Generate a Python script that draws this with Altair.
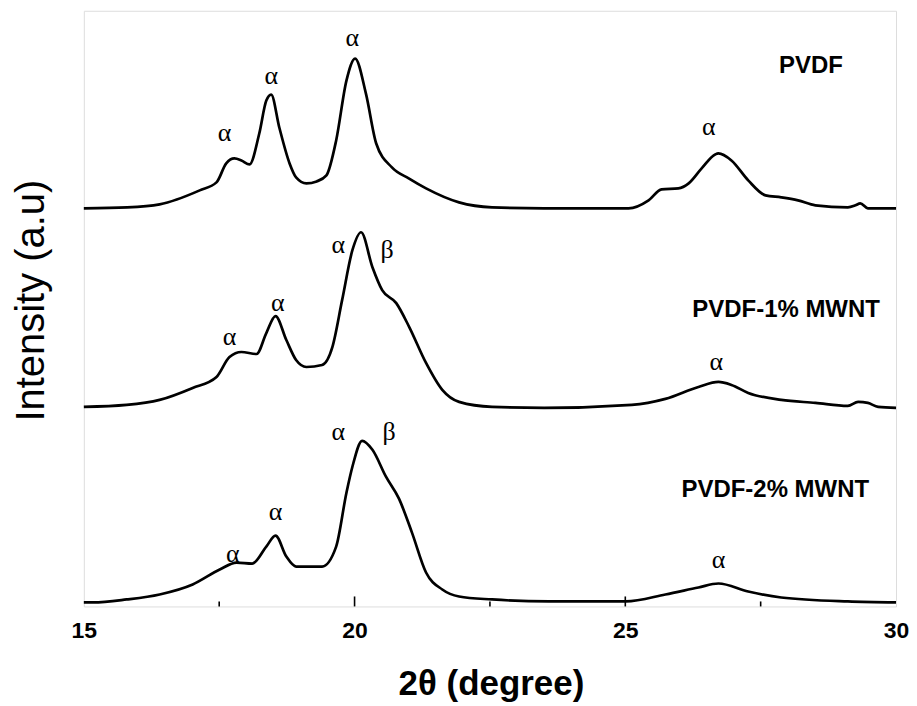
import altair as alt
import pandas as pd

# ---- data (2θ in degrees, intensity in a.u.) ----
pvdf_x = [15.0, 15.8, 16.4, 17.14, 17.45, 17.63, 17.78, 17.91, 18.06, 18.24, 18.37, 18.46,
          18.61, 18.80, 18.92, 19.11, 19.30, 19.48, 19.66, 19.85, 20.01, 20.21, 20.40, 20.69,
          21.0, 21.32, 21.93, 22.54, 23.5, 25.06, 25.43, 25.67, 25.98, 26.17, 26.41, 26.66,
          26.72, 26.96, 27.27, 27.59, 27.88, 28.19, 28.51, 29.11, 29.25, 29.34, 29.48, 30.0]
pvdf_y = [0, 1, 4, 18, 26, 45, 50, 48, 44, 75, 108, 114,
          81, 45, 31, 25, 27, 33, 68, 128, 150, 115, 65, 41,
          30, 20, 6, 1, 0, 0, 8, 19, 20, 25, 40, 54,
          55, 48, 28, 13, 11, 8, 3, 1, 3, 5, 0, 0]

mw1_x = [15.0, 15.79, 16.40, 17.01, 17.45, 17.69, 17.91, 18.19, 18.37, 18.54, 18.74, 18.92,
         19.11, 19.40, 19.59, 19.77, 19.96, 20.12, 20.33, 20.51, 20.77, 21.01, 21.32, 21.62,
         21.93, 22.54, 23.5, 25.12, 25.74, 26.35, 26.72, 26.96, 27.27, 27.88, 28.51, 29.11,
         29.30, 29.48, 29.67, 30.0]
mw1_y = [1, 3, 8, 20, 31, 51, 56, 54, 75, 92, 68, 48,
         41, 43, 61, 108, 158, 176, 141, 118, 105, 81, 45, 18,
         6, 1, 0, 3, 9, 21, 26, 23, 15, 8, 5, 2,
         6, 5, 1, 0]

mw2_x = [15.0, 15.17, 15.79, 16.40, 17.01, 17.51, 17.82, 18.11, 18.37, 18.54, 18.74, 18.92,
         19.40, 19.66, 19.85, 19.96, 20.14, 20.33, 20.58, 20.82, 21.06, 21.32, 21.62, 21.93,
         22.54, 23.59, 25.01, 25.74, 26.35, 26.72, 27.27, 27.88, 29.11, 30.0]
mw2_y = [0, 0, 3, 8, 18, 33, 40, 39, 56, 67, 46, 36,
         36, 56, 110, 136, 162, 153, 126, 104, 70, 30, 13, 6,
         3, 1, 1, 8, 15, 19, 11, 5, 1, 0]

series_names = ["PVDF", "PVDF-1% MWNT", "PVDF-2% MWNT"]
series_offsets = [399, 199, 4]

# peak annotations: 2θ, level, symbol
peak_x = [17.60, 18.46, 19.96, 26.54,
          17.69, 18.58, 19.70, 20.60, 26.68,
          17.75, 18.54, 19.70, 20.64, 26.72]
peak_y = [474, 532, 570, 480,
          270, 304, 362, 357, 245,
          53, 95, 175, 175, 47]
peak_sym = ["α", "α", "α", "α",
            "α", "α", "α", "β", "α",
            "α", "α", "α", "β", "α"]

name_x = [28.43, 27.97, 27.77]
name_y = [542, 297, 117]

major_ticks = [20, 25]
minor_ticks = [17.5, 22.5, 27.5]

# ---- tables ----
rows = []
for name, off, xs, ys in zip(series_names, series_offsets,
                             [pvdf_x, mw1_x, mw2_x], [pvdf_y, mw1_y, mw2_y]):
    for x, y in zip(xs, ys):
        rows.append({"series": name, "theta": x, "intensity": y + off})
curves = pd.DataFrame(rows)
peaks = pd.DataFrame({"theta": peak_x, "level": peak_y, "sym": peak_sym})
names = pd.DataFrame({"theta": name_x, "level": name_y, "name": series_names})
majors = pd.DataFrame({"t": major_ticks})
minors = pd.DataFrame({"t": minor_ticks})

W, H = 814, 597

xscale = alt.Scale(domain=[15, 30], nice=False, zero=False)
yscale = alt.Scale(domain=[0, 597], nice=False, zero=False)

xaxis = alt.Axis(values=[15, 20, 25, 30], format="d", ticks=False, tickSize=0,
                 domain=False, grid=False, labelFlush=False, labelOverlap=False,
                 labelFont="Liberation Sans", labelFontWeight="bold", labelFontSize=23,
                 labelColor="black", labelBaseline="alphabetic", labelPadding=31,
                 title="2θ (degree)", titleFont="Liberation Sans", titleFontWeight="bold",
                 titleFontSize=35, titleColor="black", titleBaseline="alphabetic",
                 titleX=408, titleY=88, titleAlign="center")
yaxis = alt.Axis(labels=False, ticks=False, domain=False, grid=False,
                 title="Intensity (a.u)", titleFont="Liberation Sans",
                 titleFontWeight="normal", titleFontSize=40, titleColor="black",
                 titleBaseline="alphabetic", titleAngle=270, titleAlign="center",
                 titleX=-40, titleY=290)

lines = alt.Chart(curves).mark_line(color="black", strokeWidth=2.7,
                                    interpolate="monotone").encode(
    x=alt.X("theta:Q", scale=xscale, axis=xaxis),
    y=alt.Y("intensity:Q", scale=yscale, axis=yaxis),
    detail="series:N",
)

peak_text = alt.Chart(peaks).mark_text(font="Liberation Serif", fontSize=26,
                                       color="black", baseline="middle").encode(
    x=alt.X("theta:Q", scale=xscale),
    y=alt.Y("level:Q", scale=yscale),
    text="sym:N",
)

name_text = alt.Chart(names).mark_text(font="Liberation Sans", fontSize=24,
                                       fontWeight="bold", color="black",
                                       baseline="middle").encode(
    x=alt.X("theta:Q", scale=xscale),
    y=alt.Y("level:Q", scale=yscale),
    text="name:N",
)

major_rules = alt.Chart(majors).mark_rule(color="black", strokeWidth=1.6).encode(
    x=alt.X("t:Q", scale=xscale),
    y=alt.value(H),
    y2=alt.value(H - 10),
)
minor_rules = alt.Chart(minors).mark_rule(color="black", strokeWidth=1.6).encode(
    x=alt.X("t:Q", scale=xscale),
    y=alt.value(H),
    y2=alt.value(H - 5),
)

chart = alt.layer(lines, peak_text, name_text, major_rules, minor_rules).properties(
    width=W, height=H,
    autosize=alt.AutoSizeParams(type="none"),
    padding={"left": 76, "top": 2, "right": 13, "bottom": 96},
).configure_view(stroke="black", strokeWidth=2).configure(background="white")

chart.save("out.html", embed_options={"renderer": "svg", "actions": False})
